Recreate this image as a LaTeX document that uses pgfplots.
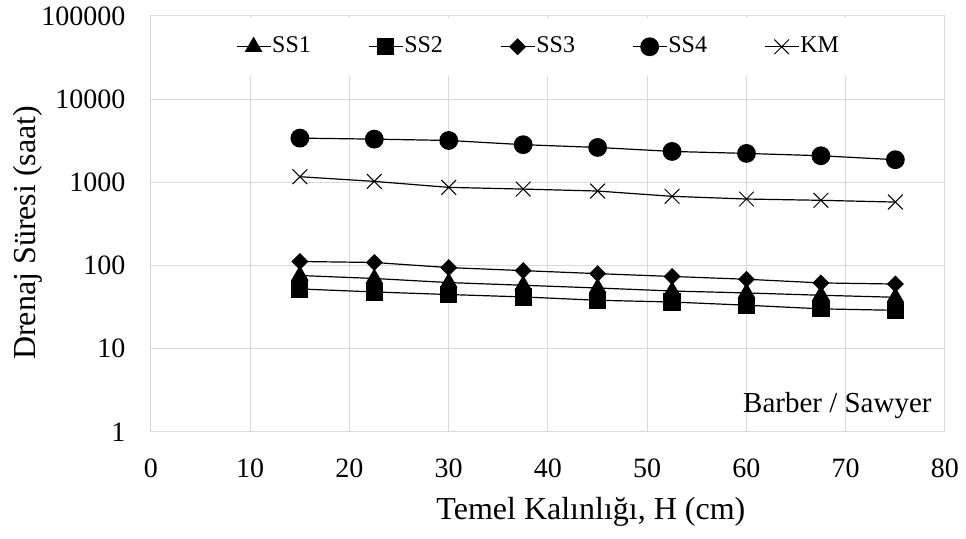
\documentclass[border=0pt]{standalone}
\usepackage{fontspec}
\setmainfont{Liberation Serif}
\usepackage{pgfplots}
\pgfplotsset{compat=1.18}
\definecolor{gridgray}{RGB}{217,217,217}
\begin{document}
\fontsize{14}{16}\selectfont
\begin{tikzpicture}
\useasboundingbox (0,0) rectangle (483pt,269.5pt);
\begin{axis}[
  at={(75.5pt,53.5pt)}, anchor=south west,
  scale only axis, width=397pt, height=208pt,
  xmin=0, xmax=80, ymode=log, ymin=1, ymax=100000,
  xtick={0,10,...,80},
  ytick={1,10,100,1000,10000,100000},
  yticklabels={1,10,100,1000,10000,100000},
  minor ytick={},
  grid=major,
  major grid style={gridgray, line width=0.5pt},
  axis line style={gridgray, line width=0.5pt},
  tick style={draw=none},
  /pgf/number format/assume math mode=true,
  ticklabel style={font=\fontsize{14}{16}\selectfont},
  yticklabel style={xshift=-8pt},
  xticklabel style={yshift=-8.8pt},
  xlabel={Temel Kalınlığı, H (cm)},
  ylabel={Drenaj Süresi (saat)},
  every axis x label/.style={at={(axis description cs:0.554,-0.192)}, anchor=center, font=\fontsize{16}{18}\selectfont},
  every axis y label/.style={at={(axis description cs:-0.1555,0.479)}, anchor=center, rotate=90, font=\fontsize{16}{18}\selectfont},
  legend columns=5,
  legend style={at={(rel axis cs:0.4874,0.926)}, anchor=center, draw=none, fill=white,
    inner xsep=27pt, inner ysep=9pt, font=\fontsize{12}{14}\selectfont,
    /tikz/every even column/.append style={column sep=28pt},
    nodes={inner sep=0.5pt}},
  every axis plot/.append style={black, line width=0.6pt},
  clip=false,
]
\addplot[mark=triangle*, mark size=4.5pt] coordinates {
 (15,76) (22.5,70) (30,62.5) (37.5,58) (45,53.8) (52.5,49.5) (60,46.9) (67.5,44) (75,41.6)};
\addlegendentry{SS1}
\addplot[mark=square*, mark size=4pt] coordinates {
 (15,52.4) (22.5,48.2) (30,44.9) (37.5,42) (45,38.3) (52.5,36.5) (60,33.4) (67.5,30.2) (75,29)};
\addlegendentry{SS2}
\addplot[mark=diamond*, mark size=3.8pt, mark options={xscale=1.33}] coordinates {
 (15,112) (22.5,109) (30,94.6) (37.5,87) (45,80) (52.5,74) (60,68.5) (67.5,61.9) (75,60)};
\addlegendentry{SS3}
\addplot[mark=*, mark size=4.4pt] coordinates {
 (15,3404) (22.5,3311) (30,3190) (37.5,2840) (45,2630) (52.5,2355) (60,2230) (67.5,2090) (75,1873)};
\addlegendentry{SS4}
\addplot[mark=x, mark size=5.2pt, mark options={line width=0.5pt}] coordinates {
 (15,1170) (22.5,1028) (30,871) (37.5,831) (45,787) (52.5,680) (60,631) (67.5,609) (75,580)};
\addlegendentry{KM}
\node[anchor=base east, inner sep=0pt, font=\fontsize{14.5}{16}\selectfont] at ([xshift=-6.5pt,yshift=9.5pt]rel axis cs:1,0) {Barber / Sawyer};
\end{axis}
\end{tikzpicture}
\end{document}
